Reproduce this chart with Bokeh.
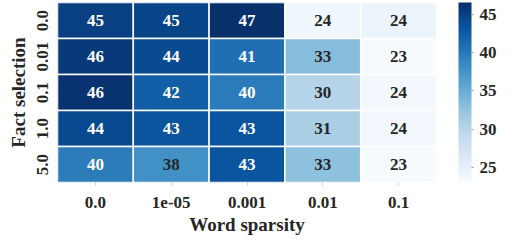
from bokeh.plotting import figure
from bokeh.models import LinearColorMapper, ColorBar, FixedTicker, ColumnDataSource
from bokeh.palettes import Blues256
from bokeh.embed import file_html
from bokeh.resources import INLINE
from bokeh.core.properties import value

word_sparsity = ["0.0", "1e-05", "0.001", "0.01", "0.1"]
fact_selection = ["0.0", "0.01", "0.1", "1.0", "5.0"]
scores = [
    [45.2, 44.8, 46.6, 24.0, 24.3],
    [45.7, 44.2, 40.8, 33.2, 23.0],
    [46.3, 42.3, 39.8, 30.1, 23.6],
    [44.3, 43.2, 43.4, 31.0, 23.8],
    [39.7, 37.8, 43.2, 32.8, 23.2],
]
cbar_ticks = [25, 30, 35, 40, 45]

FONT = "Liberation Serif"
FW, FH = 379, 180
palette = list(reversed(Blues256))
flat = [v for row in scores for v in row]
low, high = min(flat), max(flat)
mapper = LinearColorMapper(palette=palette, low=low, high=high)

xs, ys, vals, labels, tcolors = [], [], [], [], []
for i, fs in enumerate(fact_selection):
    for j, ws in enumerate(word_sparsity):
        v = scores[i][j]
        xs.append(ws); ys.append(fs); vals.append(v)
        labels.append(str(int(round(v))))
        tcolors.append("#262626" if v < 39 else "white")
src = ColumnDataSource(dict(x=xs, y=ys, v=vals, label=labels, tc=tcolors))

p = figure(frame_width=FW, frame_height=FH, x_range=word_sparsity,
           y_range=list(reversed(fact_selection)),
           output_backend="svg", toolbar_location=None,
           min_border_left=57, min_border_right=61, min_border_top=2,
           min_border_bottom=0)
p.rect(x="x", y="y", width=1, height=1, source=src,
       fill_color={"field": "v", "transform": mapper},
       line_color="white", line_width=1.5)
p.text(x="x", y="y", text="label", source=src, text_color="tc",
       text_align="center", text_baseline="middle",
       text_font=value(FONT), text_font_style="bold", text_font_size="17px")

p.grid.visible = False
p.outline_line_color = None
for ax in (p.xaxis, p.yaxis):
    ax.axis_line_color = None
    ax.major_label_text_font = FONT
    ax.major_label_text_font_style = "bold"
    ax.major_label_text_font_size = "17px"
    ax.major_label_text_color = "#262626"
    ax.axis_label_text_font = FONT
    ax.axis_label_text_font_style = "bold"
    ax.axis_label_text_font_size = "19px"
    ax.axis_label_text_color = "#262626"
p.xaxis.axis_label = "Word sparsity"
p.yaxis.axis_label = "Fact selection"
p.xaxis.major_tick_line_color = "#cccccc"
p.xaxis.major_tick_out = 3
p.xaxis.major_tick_in = 0
p.xaxis.major_label_standoff = 11
p.xaxis.axis_label_standoff = 3
p.yaxis.major_tick_line_color = None
p.yaxis.major_label_orientation = "vertical"
p.yaxis.major_label_standoff = 4
p.yaxis.axis_label_standoff = 5

cb = ColorBar(color_mapper=mapper, width=13, height=FH, padding=0, margin=0,
              location=(FW + 22, 0),
              ticker=FixedTicker(ticks=cbar_ticks),
              major_label_text_font=FONT, major_label_text_font_style="bold",
              major_label_text_font_size="17px",
              major_label_text_color="#262626",
              major_tick_line_color="#999999", major_tick_in=0,
              major_tick_out=2, label_standoff=6,
              bar_line_color=None, background_fill_alpha=0,
              border_line_color=None)
p.add_layout(cb)

open("out.html", "w").write(file_html(p, INLINE))
